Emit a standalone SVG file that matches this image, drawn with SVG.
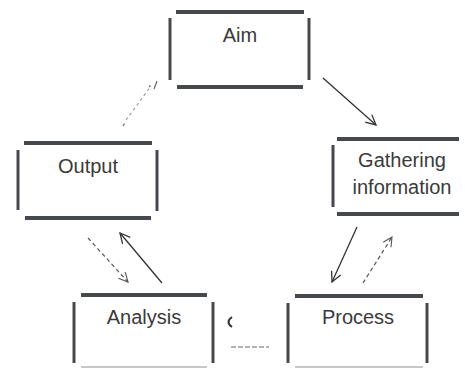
<svg xmlns="http://www.w3.org/2000/svg" width="465" height="369" viewBox="0 0 465 369">
<defs>
<style>
.h{stroke:#45484c;stroke-width:4;fill:none}
.v{stroke:#45484c;stroke-width:3;fill:none}
.f{stroke:#c8c8c8;stroke-width:2;fill:none}
.t{font-family:"Liberation Sans",Arial,sans-serif;font-size:20px;fill:#3a3a3a;text-anchor:middle}
.a{stroke:#333;stroke-width:1.3;fill:none}
.d{stroke:#555;stroke-width:1.2;fill:none;stroke-dasharray:4 3}
.g{stroke:#999;stroke-width:1.1;fill:none;stroke-dasharray:3 3}
</style>
<marker id="ah" viewBox="0 0 12 12" refX="11" refY="6" markerWidth="12" markerHeight="12" markerUnits="userSpaceOnUse" orient="auto">
<path d="M1,1 L11,6 L1,11" fill="none" stroke="#333" stroke-width="1.3"/>
</marker>
<marker id="ahd" viewBox="0 0 12 12" refX="11" refY="6" markerWidth="11" markerHeight="11" markerUnits="userSpaceOnUse" orient="auto">
<path d="M1,1 L11,6 L1,11" fill="none" stroke="#555" stroke-width="1.2"/>
</marker>
</defs>
<rect width="465" height="369" fill="#fff"/>
<g id="aim">
<line class="h" x1="176" y1="12" x2="304" y2="12"/>
<line class="v" x1="170" y1="18" x2="170" y2="80"/>
<line class="v" x1="309" y1="18" x2="309" y2="80"/>
<line class="h" x1="177" y1="87" x2="303" y2="87"/>
<text class="t" x="240" y="42">Aim</text>
</g>
<g id="output">
<line class="h" x1="24" y1="143" x2="152" y2="143"/>
<line class="v" x1="18" y1="150" x2="18" y2="210"/>
<line class="v" x1="157" y1="150" x2="157" y2="211"/>
<line class="h" x1="25" y1="218" x2="151" y2="218"/>
<text class="t" x="88" y="173">Output</text>
</g>
<g id="gathering">
<line class="h" x1="337" y1="139" x2="459" y2="139"/>
<line class="v" x1="333" y1="145" x2="333" y2="207"/>
<line class="h" x1="337" y1="214" x2="459" y2="214"/>
<text class="t" x="402" y="167">Gathering</text>
<text class="t" x="402" y="194">information</text>
</g>
<g id="analysis">
<line class="h" x1="81" y1="295" x2="207" y2="295"/>
<line class="v" x1="74" y1="302" x2="74" y2="363"/>
<line class="v" x1="213" y1="302" x2="213" y2="363"/>
<line class="f" x1="81" y1="367" x2="207" y2="367"/>
<text class="t" x="144" y="324">Analysis</text>
</g>
<g id="process">
<line class="h" x1="295" y1="296" x2="423" y2="296"/>
<line class="v" x1="288" y1="303" x2="288" y2="363"/>
<line class="v" x1="427" y1="303" x2="427" y2="363"/>
<line class="f" x1="295" y1="367" x2="423" y2="367"/>
<text class="t" x="358" y="324">Process</text>
</g>
<g id="connectors">
<line class="a" x1="323" y1="78" x2="376" y2="125" marker-end="url(#ah)"/>
<line class="g" x1="126" y1="120" x2="151" y2="86"/>
<path d="M123,126 l1.5,-2.5 M149,87 l1.5,-1.5 M154,89 l3,-8" stroke="#666" stroke-width="1.2" fill="none"/>
<line class="a" x1="357" y1="227" x2="332" y2="282" marker-end="url(#ah)"/>
<line class="d" x1="363" y1="283" x2="392" y2="237" marker-end="url(#ahd)"/>
<line class="d" x1="88" y1="238" x2="128" y2="282" marker-end="url(#ahd)"/>
<line class="a" x1="162" y1="283" x2="120" y2="233" marker-end="url(#ah)"/>
<path d="M232,317 Q225,322 232,327" stroke="#333" stroke-width="2" fill="none"/>
<line x1="231" y1="347" x2="269" y2="347" stroke="#666" stroke-width="1.2" stroke-dasharray="5 2"/>
</g>
</svg>
